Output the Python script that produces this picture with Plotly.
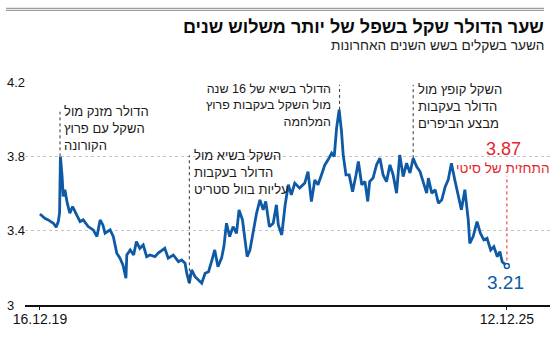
import plotly.graph_objects as go

# ---- data ----
dates = [
    "2019-12-16", "2020-01-08", "2020-01-24", "2020-02-17", "2020-03-01", "2020-03-11",
    "2020-03-17", "2020-03-21", "2020-03-29", "2020-04-03", "2020-04-11", "2020-04-22",
    "2020-05-04", "2020-05-17", "2020-06-05", "2020-06-21", "2020-07-06", "2020-07-29",
    "2020-08-22", "2020-09-08", "2020-09-23", "2020-10-06", "2020-10-16", "2020-11-09",
    "2020-11-24", "2020-12-10", "2020-12-25", "2021-01-08", "2021-01-22", "2021-01-26",
    "2021-02-11", "2021-02-27", "2021-03-12", "2021-03-28", "2021-04-13", "2021-04-29",
    "2021-05-14", "2021-06-07", "2021-06-22", "2021-07-23", "2021-08-08", "2021-09-01",
    "2021-09-25", "2021-10-10", "2021-10-26", "2021-11-03", "2021-11-15", "2021-11-26",
    "2021-12-12", "2021-12-27", "2022-01-12", "2022-01-28", "2022-02-13", "2022-03-01",
    "2022-03-14", "2022-03-29", "2022-04-15", "2022-04-26", "2022-05-08", "2022-05-23",
    "2022-06-08", "2022-06-24", "2022-07-06", "2022-07-22", "2022-08-02", "2022-08-13",
    "2022-08-26", "2022-09-11", "2022-09-26", "2022-10-12", "2022-10-27", "2022-11-08",
    "2022-11-25", "2022-12-13", "2022-12-28", "2023-01-06", "2023-01-22", "2023-02-07",
    "2023-02-22", "2023-03-08", "2023-03-24", "2023-04-16", "2023-05-10", "2023-05-25",
    "2023-06-10", "2023-06-26", "2023-07-11", "2023-07-27", "2023-08-12", "2023-08-27",
    "2023-09-13", "2023-09-25", "2023-10-06", "2023-10-18", "2023-10-29", "2023-11-06",
    "2023-11-19", "2023-12-04", "2023-12-20", "2024-01-05", "2024-01-16", "2024-02-01",
    "2024-02-16", "2024-02-29", "2024-03-09", "2024-03-25", "2024-04-10", "2024-04-26",
    "2024-05-11", "2024-05-27", "2024-06-12", "2024-06-27", "2024-07-13", "2024-07-28",
    "2024-08-13", "2024-08-29", "2024-09-14", "2024-09-29", "2024-10-15", "2024-10-31",
    "2024-11-16", "2024-12-01", "2024-12-09", "2024-12-25", "2025-01-10", "2025-01-25",
    "2025-02-10", "2025-02-26", "2025-03-12", "2025-03-27", "2025-04-12", "2025-04-28",
    "2025-05-13", "2025-05-29", "2025-06-14", "2025-06-21", "2025-07-07", "2025-07-25",
    "2025-08-10", "2025-08-26", "2025-09-10", "2025-09-27", "2025-10-12", "2025-10-28",
    "2025-11-09", "2025-11-20", "2025-12-12",
]
rates = [
    3.49, 3.467, 3.458, 3.440, 3.419, 3.449,
    3.496, 3.799, 3.691, 3.584, 3.620, 3.548,
    3.494, 3.530, 3.485, 3.449, 3.458, 3.422,
    3.404, 3.368, 3.458, 3.431, 3.386, 3.404,
    3.368, 3.279, 3.252, 3.216, 3.144, 3.269,
    3.296, 3.269, 3.341, 3.305, 3.323, 3.260,
    3.269, 3.260, 3.279, 3.305, 3.252, 3.269,
    3.233, 3.242, 3.225, 3.171, 3.117, 3.189,
    3.152, 3.135, 3.117, 3.171, 3.179, 3.242,
    3.296, 3.206, 3.252, 3.314, 3.440, 3.368,
    3.422, 3.386, 3.512, 3.458, 3.368, 3.260,
    3.296, 3.404, 3.494, 3.566, 3.512, 3.557,
    3.422, 3.440, 3.539, 3.431, 3.377, 3.539,
    3.647, 3.593, 3.656, 3.629, 3.656, 3.718,
    3.557, 3.673, 3.647, 3.700, 3.754, 3.781,
    3.817, 3.799, 3.952, 4.051, 3.934, 3.808,
    3.700, 3.700, 3.610, 3.700, 3.772, 3.647,
    3.664, 3.557, 3.664, 3.683, 3.754, 3.790,
    3.700, 3.664, 3.754, 3.700, 3.602, 3.808,
    3.691, 3.763, 3.710, 3.790, 3.745, 3.718,
    3.656, 3.602, 3.683, 3.602, 3.620, 3.548,
    3.566, 3.637, 3.673, 3.763, 3.673, 3.584,
    3.512, 3.620, 3.458, 3.332, 3.368, 3.449,
    3.386, 3.350, 3.359, 3.296, 3.314, 3.260,
    3.287, 3.233, 3.21,
]

y_ticks = [3, 3.4, 3.8, 4.2]
y_tick_text = ["3", "3.4", "3.8", "4.2"]
x_ticks = ["2019-12-16", "2025-12-12"]
x_tick_text = ["16.12.19", "12.12.25"]

citi_forecast = 3.87
last_rate = 3.21

title = "שער הדולר שקל בשפל של יותר משלוש שנים"
subtitle = "השער בשקלים בשש השנים האחרונות"

events = [
    # (date of event, value at line, top of leader, text, align)
    ("2020-03-19", 3.80, 4.04, "הדולר מזנק מול<br>השקל עם פרוץ<br>הקורונה", "left"),
    ("2021-11-15", 3.117, 3.805, "השקל בשיא מול<br>הדולר בעקבות<br>עליות בוול סטריט", "left"),
    ("2023-10-20", 4.05, 4.185, "הדולר בשיא של 16 שנה<br>מול השקל בעקבות פרוץ<br>המלחמה", "right"),
    ("2024-09-29", 3.79, 4.185, "השקל קופץ מול<br>הדולר בעקבות<br>מבצע הביפרים", "left"),
]

# ---- layout geometry ----
W, H = 550, 341
L, R, T, B = 25, 0, 82, 36
PW, PH = W - L - R, H - T - B

def px(x):
    return (x - L) / PW

def py(y):
    return (H - B - y) / PH

FONT = "Liberation Sans Narrow, Arial Narrow, Liberation Sans, sans-serif"
BLUE = "#0f5aa6"
RED = "#e3262c"

fig = go.Figure()
fig.add_trace(go.Scatter(
    x=dates, y=rates, mode="lines",
    line=dict(color=BLUE, width=2.8),
    hoverinfo="skip", showlegend=False,
))
fig.add_trace(go.Scatter(
    x=[dates[-1]], y=[rates[-1]], mode="markers",
    marker=dict(size=5, color="white", line=dict(color=BLUE, width=1.5)),
    hoverinfo="skip", showlegend=False,
))

shapes = []
# top double rule
for yy in (8.3, 10.3):
    shapes.append(dict(type="line", xref="paper", yref="paper",
                       x0=px(6), x1=px(544), y0=py(yy), y1=py(yy),
                       line=dict(color="#a0a0a0", width=1.3)))
# event leaders
for d, v0, v1, _, _ in events:
    shapes.append(dict(type="line", xref="x", yref="y", x0=d, x1=d, y0=v0, y1=v1,
                       line=dict(color="#333333", width=1, dash="dot")))
# Citi leader
shapes.append(dict(type="line", xref="x", yref="y", x0=dates[-1], x1=dates[-1],
                   y0=3.24, y1=3.695, line=dict(color=RED, width=1, dash="dot")))

annotations = []
annotations.append(dict(xref="paper", yref="paper", x=px(546), y=py(26.5),
                        xanchor="right", yanchor="middle", showarrow=False,
                        text="<b>" + title + "</b>",
                        font=dict(family=FONT, size=18, color="#0a0a0a", weight=900)))
annotations.append(dict(xref="paper", yref="paper", x=px(546), y=py(45.5),
                        xanchor="right", yanchor="middle", showarrow=False,
                        text=subtitle,
                        font=dict(family=FONT, size=13.6, color="#222222")))

# y tick labels, left-aligned as in the reference
for v, t in zip(y_ticks, y_tick_text):
    annotations.append(dict(xref="paper", yref="y", x=px(5), y=v,
                            xanchor="left", yanchor="middle", showarrow=False,
                            text=t, font=dict(family=FONT, size=13, color="#111111")))

text_pos = [
    (62, 128.5, "left", 13),
    (192, 172.5, "left", 13),
    (333, 105, "right", 12.5),
    (416, 106, "left", 13),
]
for (d, v0, v1, txt, al), (tx, ty, anc, fs) in zip(events, text_pos):
    annotations.append(dict(xref="paper", yref="paper", x=px(tx), y=py(ty),
                            xanchor=anc, yanchor="middle", align=al,
                            showarrow=False, text=txt,
                            font=dict(family=FONT, size=fs, color="#1a1a1a")))

annotations.append(dict(xref="paper", yref="paper", x=px(503), y=py(149),
                        xanchor="center", yanchor="middle", showarrow=False,
                        text=f"{citi_forecast:.2f}",
                        font=dict(family=FONT, size=18, color=RED)))
annotations.append(dict(xref="paper", yref="paper", x=px(503), y=py(168),
                        xanchor="center", yanchor="middle", showarrow=False,
                        text="התחזית של סיטי",
                        font=dict(family=FONT, size=13.6, color=RED)))
annotations.append(dict(xref="paper", yref="paper", x=px(505), y=py(282),
                        xanchor="center", yanchor="middle", showarrow=False,
                        text=f"{last_rate:.2f}",
                        font=dict(family=FONT, size=19, color=BLUE)))

fig.update_layout(
    width=W, height=H,
    margin=dict(l=L, r=R, t=T, b=B, pad=0),
    paper_bgcolor="white", plot_bgcolor="white",
    shapes=shapes, annotations=annotations,
    showlegend=False,
    xaxis=dict(
        type="date", range=["2019-10-07", "2026-07-02"],
        tickvals=x_ticks, ticktext=x_tick_text,
        ticks="outside", ticklen=3, tickwidth=1, tickcolor="#111111",
        ticklabelstandoff=-3,
        showline=True, linecolor="#111111", linewidth=1.5,
        showgrid=False, zeroline=False,
        tickfont=dict(family=FONT, size=14, color="#111111"),
        fixedrange=True,
    ),
    yaxis=dict(
        range=[3, 4.2], tickvals=y_ticks, showticklabels=False,
        showgrid=True, gridcolor="#c4c4c4", griddash="dot", gridwidth=1,
        zeroline=False, showline=False, ticks="",
        fixedrange=True,
    ),
)

fig.write_html("out.html")
